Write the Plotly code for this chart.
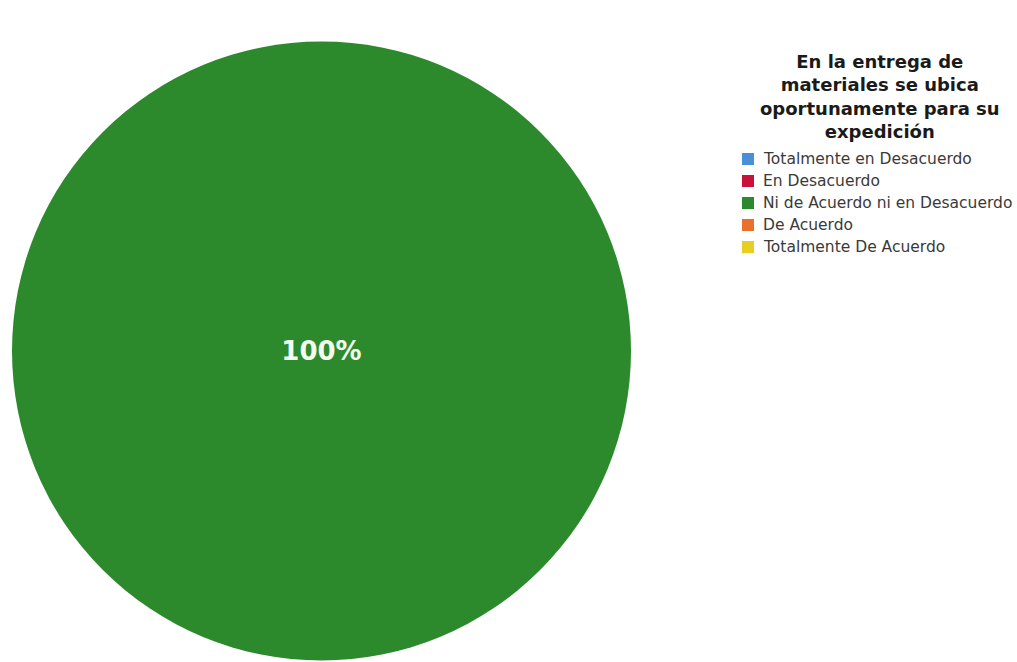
import plotly.graph_objects as go

# Survey answers for the item and their response shares
categories = [
    "Totalmente en Desacuerdo",
    "En Desacuerdo",
    "Ni de Acuerdo ni en Desacuerdo",
    "De Acuerdo",
    "Totalmente De Acuerdo",
]
responses = [0, 0, 1, 0, 0]
colors = ["#4a90d6", "#c8123a", "#2c8a2c", "#e8702a", "#e6cf22"]

title_text = ("<b>En la entrega de<br>materiales se ubica<br>"
              "oportunamente para su<br>expedición</b>")

W, H = 1017, 662
FONT = "DejaVu Sans, Arial, sans-serif"

fig = go.Figure(
    go.Pie(
        labels=categories,
        values=responses,
        marker=dict(colors=colors, line=dict(width=0)),
        sort=False,
        direction="clockwise",
        textinfo="percent",
        texttemplate="<b>%{percent:.0%}</b>",
        textposition="inside",
        insidetextfont=dict(family=FONT, size=26, color="#f4fbef"),
        insidetextorientation="horizontal",
        hoverinfo="label+percent",
        domain=dict(x=[12 / W, 631 / W], y=[1 - 661 / H, 1 - 41 / H]),
        showlegend=False,
    )
)

# Legend heading
fig.add_annotation(
    text=title_text,
    xref="paper", yref="paper",
    x=880 / W, y=1 - 49 / H,
    xanchor="center", yanchor="top",
    showarrow=False, align="center",
    font=dict(family=FONT, size=18, color="#1a1a1a"),
)

# Legend: one swatch + label per answer category
row_top, row_step = 159, 22
sw_left, sw_size, text_left = 742, 12, 761
for i, (name, col) in enumerate(zip(categories, colors)):
    yc = row_top + i * row_step
    fig.add_shape(
        type="rect", xref="paper", yref="paper",
        x0=sw_left / W, x1=(sw_left + sw_size) / W,
        y0=1 - (yc + sw_size / 2) / H, y1=1 - (yc - sw_size / 2) / H,
        fillcolor=col, line=dict(width=0),
    )
    fig.add_annotation(
        text=name, xref="paper", yref="paper",
        x=text_left / W, y=1 - yc / H,
        xanchor="left", yanchor="middle",
        showarrow=False, align="left",
        font=dict(family=FONT, size=15.5, color="#3a3a3a"),
    )

fig.update_layout(
    width=W, height=H,
    margin=dict(l=0, r=0, t=0, b=0),
    paper_bgcolor="white",
    plot_bgcolor="white",
)

fig.write_html("out.html")
